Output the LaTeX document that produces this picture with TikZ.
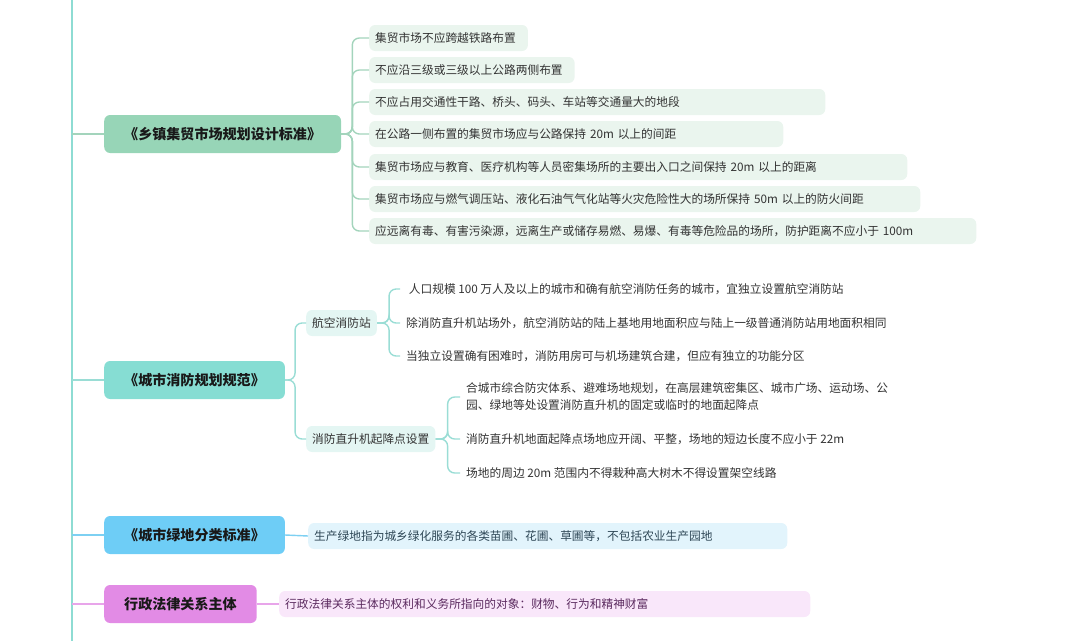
\documentclass[tikz,border=0pt]{standalone}
\usepackage{fontspec}
\setmainfont{Noto Sans CJK SC}
\usepackage{tikz}
\usetikzlibrary{positioning}
\usepackage{xcolor}

\definecolor{trunkc}{HTML}{8EDCD3}
\definecolor{zsfill}{HTML}{97D5B7}
\definecolor{zsleaf}{HTML}{EAF5EE}
\definecolor{zsline}{HTML}{A3D4BC}
\definecolor{xffill}{HTML}{86DDD3}
\definecolor{xfleaf}{HTML}{E4F6F3}
\definecolor{xfline}{HTML}{9ADDD5}
\definecolor{ldfill}{HTML}{6ECDF6}
\definecolor{ldleaf}{HTML}{E2F4FC}
\definecolor{ldline}{HTML}{7DD0F2}
\definecolor{ldtext}{HTML}{2E4756}
\definecolor{xzfill}{HTML}{E28BE5}
\definecolor{xzleaf}{HTML}{F9E7FA}
\definecolor{xzline}{HTML}{E8A5EA}
\definecolor{xztext}{HTML}{5B2A5F}

\begin{document}
\begin{tikzpicture}[
    x=0.03cm, y=-0.03cm,
    topic/.style = {rectangle, rounded corners=5pt, anchor=west, minimum height=1.14cm, inner xsep=0.6cm, font=\fontsize{12}{14}\selectfont\bfseries, text=black!90},
    leaf/.style = {rectangle, rounded corners=5pt, anchor=west, minimum height=0.78cm, inner xsep=0.18cm, align=left, font=\fontsize{10}{14.5}\selectfont, text=black!80},
    link/.style = {line width=1.2pt, rounded corners=6pt}
]
\useasboundingbox (0,0) rectangle (1080,641);

% trunk
\coordinate (top) at (72,0);
\coordinate (bottom) at (72,641);
\draw [line width=1.5pt, draw=trunkc] (top) -- (bottom);

% 乡镇集贸市场
\node (zs) [topic, fill=zsfill] at (104,134) {《乡镇集贸市场规划设计标准》};
\node (zs1) [leaf, fill=zsleaf, text width=4.4cm] at (369,38) {集贸市场不应跨越铁路布置};
\node (zs2) [leaf, fill=zsleaf, text width=5.8cm] at (369,70) {不应沿三级或三级以上公路两侧布置};
\node (zs3) [leaf, fill=zsleaf, text width=13.32cm] at (369,102) {不应占用交通性干路、桥头、码头、车站等交通量大的地段};
\node (zs4) [leaf, fill=zsleaf, text width=12.06cm] at (369,134) {在公路一侧布置的集贸市场应与公路保持 20m 以上的间距};
\node (zs5) [leaf, fill=zsleaf, text width=15.78cm] at (369,167) {集贸市场应与教育、医疗机构等人员密集场所的主要出入口之间保持 20m 以上的距离};
\node (zs6) [leaf, fill=zsleaf, text width=16.17cm] at (369,199) {集贸市场应与燃气调压站、液化石油气气化站等火灾危险性大的场所保持 50m 以上的防火间距};
\node (zs7) [leaf, fill=zsleaf, text width=17.85cm] at (369,231) {应远离有毒、有害污染源，远离生产或储存易燃、易爆、有毒等危险品的场所，防护距离不应小于 100m};

\draw [link, draw=zsline] (top |- zs.west) -- (zs.west);
\foreach \n in {1,...,7}
    \draw [link, draw=zsline] (zs.east) -- ++(11,0) |- (zs\n.west);

% 城市消防
\node (xf) [topic, fill=xffill] at (104,380) {《城市消防规划规范》};
\node (hk) [leaf, fill=xfleaf] at (306,323) {航空消防站};
\node (zsj) [leaf, fill=xfleaf] at (306,439) {消防直升机起降点设置};

\node (hk1) [leaf] at (400,289) {\ 人口规模 100 万人及以上的城市和确有航空消防任务的城市，宜独立设置航空消防站};
\node (hk2) [leaf] at (400,323) {除消防直升机站场外，航空消防站的陆上基地用地面积应与陆上一级普通消防站用地面积相同};
\node (hk3) [leaf] at (400,356) {当独立设置确有困难时，消防用房可与机场建筑合建，但应有独立的功能分区};

\node (zsj1) [leaf] at (460,397) {合城市综合防灾体系、避难场地规划，在高层建筑密集区、城市广场、运动场、公\\园、绿地等处设置消防直升机的固定或临时的地面起降点};
\node (zsj2) [leaf] at (460,439) {消防直升机地面起降点场地应开阔、平整，场地的短边长度不应小于 22m};
\node (zsj3) [leaf] at (460,473) {场地的周边 20m 范围内不得栽种高大树木不得设置架空线路};

\draw [link, draw=xfline] (top |- xf.west) -- (xf.west);
\foreach \n in {hk,zsj}
    \draw [link, draw=xfline] (xf.east) -- ++(10,0) |- (\n.west);
\foreach \n in {1,2,3}
    \draw [link, draw=xfline] (hk.east) -- ++(12,0) |- (hk\n.west);
\foreach \n in {1,2,3}
    \draw [link, draw=xfline] (zsj.east) -- ++(12,0) |- (zsj\n.west);

% 城市绿地
\node (ld) [topic, fill=ldfill] at (104,535) {《城市绿地分类标准》};
\node (ld1) [leaf, fill=ldleaf, text=ldtext, text width=14.01cm] at (308,536) {生产绿地指为城乡绿化服务的各类苗圃、花圃、草圃等，不包括农业生产园地};
\draw [link, draw=ldline] (top |- ld.west) -- (ld.west);
\draw [link, draw=ldline] (ld.east) -- (ld1.west);

% 行政法律
\node (xz) [topic, fill=xzfill] at (104,604) {行政法律关系主体};
\node (xz1) [leaf, fill=xzleaf, text=xztext, text width=15.57cm] at (279,604) {行政法律关系主体的权利和义务所指向的对象：财物、行为和精神财富};
\draw [link, draw=xzline] (top |- xz.west) -- (xz.west);
\draw [link, draw=xzline] (xz.east) -- (xz1.west);

\end{tikzpicture}
\end{document}
